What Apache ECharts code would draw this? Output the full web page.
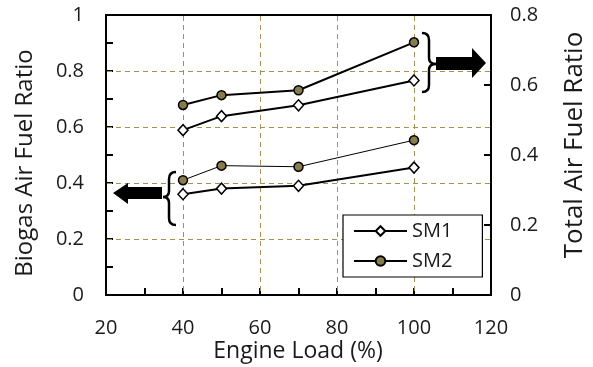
<!DOCTYPE html>
<html><head><meta charset="utf-8">
<script src="https://cdn.jsdelivr.net/npm/echarts@6/dist/echarts.min.js"></script>
<style>html,body{margin:0;padding:0;background:#fff}#c{width:593px;height:367px}</style>
</head><body><div id="c"></div>
<script>
var loads = [40, 50, 70, 100];
var sm1Biogas = [0.36, 0.38, 0.39, 0.455];
var sm2Biogas = [0.41, 0.462, 0.458, 0.553];
var sm1Total = [0.471, 0.511, 0.542, 0.613];
var sm2Total = [0.543, 0.571, 0.585, 0.722];
var xTicks = [20, 40, 60, 80, 100, 120];
var xGridVals = [40, 60, 80, 100];
var yGridVals = [0.2, 0.4, 0.6, 0.8];

function pairs(vals){ return loads.map(function(x,i){ return [x, vals[i]]; }); }

var FONT = '"Open Sans", sans-serif';
var TXT = '#1a1a1a';
var GRID = '#a39150';
var OLIVE = '#8a7c48';

var chart = echarts.init(document.getElementById('c'), null, {renderer:'canvas'});
var diamond = {symbol:'diamond', symbolSize:[10,11], itemStyle:{color:'#fff', borderColor:'#000', borderWidth:1.5}};
var circle = {symbol:'circle', symbolSize:9, itemStyle:{color:OLIVE, borderColor:'#000', borderWidth:1.5}};

function series(name, vals, yIdx, lw, m){
  return {name:name, type:'line', yAxisIndex:yIdx, data:pairs(vals), symbol:m.symbol, symbolSize:m.symbolSize,
    itemStyle:m.itemStyle, lineStyle:{color:'#000', width:lw}, showSymbol:true, z:3, animation:false};
}

function brace(xe, xm, xt, y0, ym, y1){
  var s = {stroke:'#000', lineWidth:2.5, fill:null};
  return [
    {type:'bezierCurve', shape:{x1:xe, y1:y0, x2:xm, y2:y0+7, cpx1:xm, cpy1:y0}, style:s},
    {type:'line', shape:{x1:xm, y1:y0+7, x2:xm, y2:ym-6}, style:s},
    {type:'bezierCurve', shape:{x1:xm, y1:ym-6, x2:xt, y2:ym, cpx1:xm, cpy1:ym}, style:s},
    {type:'bezierCurve', shape:{x1:xt, y1:ym, x2:xm, y2:ym+6, cpx1:xm, cpy1:ym}, style:s},
    {type:'line', shape:{x1:xm, y1:ym+6, x2:xm, y2:y1-7}, style:s},
    {type:'bezierCurve', shape:{x1:xm, y1:y1-7, x2:xe, y2:y1, cpx1:xm, cpy1:y1}, style:s}
  ];
}

var g = [
  {type:'text', x:298, y:351, style:{text:'Engine Load (%)', font:'23px "Open Sans", sans-serif', fill:TXT, textAlign:'center', textVerticalAlign:'middle'}},
  {type:'text', x:25, y:163, rotation:Math.PI/2, style:{text:'Biogas Air Fuel Ratio', font:'24px "Open Sans", sans-serif', fill:TXT, textAlign:'center', textVerticalAlign:'middle'}},
  {type:'text', x:575, y:145, rotation:Math.PI/2, style:{text:'Total Air Fuel Ratio', font:'26px "Open Sans", sans-serif', fill:TXT, textAlign:'center', textVerticalAlign:'middle'}},
  {type:'polygon', shape:{points:[[113,193],[128,183],[128,187],[162,187],[162,199],[128,199],[128,204]]}, style:{fill:'#000'}},
  {type:'polygon', shape:{points:[[436,57],[472,57],[472,48],[486,63],[472,78],[472,70],[436,70]]}, style:{fill:'#000'}}
].concat(brace(176, 169, 163, 172, 197, 225)).concat(brace(422, 429, 436, 33, 64, 92));

var tickStyle = {color:'#000', width:2};
chart.setOption({
  animation:false,
  grid:{left:106, right:102, top:15, bottom:72, show:true, borderColor:'#000', borderWidth:2, backgroundColor:'transparent'},
  xAxis:{type:'value', min:xTicks[0], max:xTicks[xTicks.length-1], interval:20,
    axisLine:{lineStyle:{color:'#000', width:2}},
    axisTick:{show:true, inside:true, length:7, lineStyle:tickStyle},
    minorTick:{show:true, splitNumber:2, length:7, lineStyle:tickStyle},
    splitLine:{show:false},
    axisLabel:{margin:23, fontFamily:FONT, fontSize:20, color:TXT}},
  yAxis:[
    {type:'value', min:0, max:1, interval:0.2, position:'left',
     axisLine:{show:true, lineStyle:{color:'#000', width:2}},
     axisTick:{show:true, inside:true, length:7, lineStyle:tickStyle},
     minorTick:{show:true, splitNumber:2, length:7, lineStyle:tickStyle},
     splitLine:{show:false},
     axisLabel:{margin:22, fontFamily:FONT, fontSize:20, color:TXT}},
    {type:'value', min:0, max:0.8, interval:0.2, position:'right',
     axisLine:{show:true, lineStyle:{color:'#000', width:2}},
     axisTick:{show:true, inside:true, length:7, lineStyle:tickStyle},
     splitLine:{show:false},
     axisLabel:{margin:19, fontFamily:FONT, fontSize:20, color:TXT}}
  ],
  legend:{data:['SM1','SM2'], orient:'vertical', left:343, top:215, padding:[6,30,6,10],
    backgroundColor:'#fff', borderColor:'#000', borderWidth:1.2, borderRadius:0,
    itemWidth:53, itemHeight:12, itemGap:10, z:10,
    textStyle:{fontFamily:FONT, fontSize:20, color:TXT, lineHeight:20}},
  series:[
    series('SM1', sm1Biogas, 0, 2, diamond),
    series('SM2', sm2Biogas, 0, 1, circle),
    series('SM1', sm1Total, 1, 2, diamond),
    series('SM2', sm2Total, 1, 2, circle)
  ]
});

// gridlines placed through the axes' own scales
var x0 = chart.convertToPixel({xAxisIndex:0}, xTicks[0]);
var x1 = chart.convertToPixel({xAxisIndex:0}, xTicks[xTicks.length-1]);
var yb = chart.convertToPixel({yAxisIndex:0}, 0);
var yt = chart.convertToPixel({yAxisIndex:0}, 1);
var gs = {stroke:GRID, lineWidth:1, lineDash:[5,4]};
var gl = [];
xGridVals.forEach(function(v){
  var px = Math.round(chart.convertToPixel({xAxisIndex:0}, v)) + 0.5;
  gl.push({type:'line', z:1, silent:true, shape:{x1:px, y1:yt+1, x2:px, y2:yb-1}, style:gs});
});
yGridVals.forEach(function(v){
  var py = Math.round(chart.convertToPixel({yAxisIndex:0}, v)) + 0.5;
  gl.push({type:'line', z:1, silent:true, shape:{x1:x0+1, y1:py, x2:x1-1, y2:py}, style:gs});
});
chart.setOption({graphic:{elements: gl.concat(g.map(function(e){ e.z = e.z || 20; return e; }))}});
</script></body></html>
